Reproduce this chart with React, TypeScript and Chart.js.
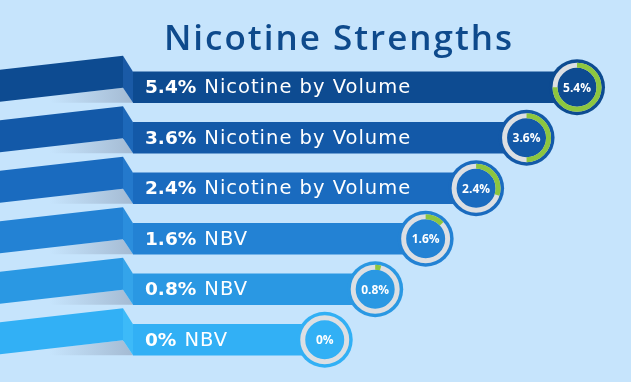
import React, { useEffect, useRef } from "react";
import { Chart, registerables } from "chart.js";

Chart.register(...registerables);

const chartTitle = "Nicotine Strengths";
const categories = ["5.4%", "3.6%", "2.4%", "1.6%", "0.8%", "0%"];
const labelSuffixes = [
  "Nicotine by Volume",
  "Nicotine by Volume",
  "Nicotine by Volume",
  "NBV",
  "NBV",
  "NBV",
];
// ordinal step (bar reach) of each strength
const strengthRank = [6, 5, 4, 3, 2, 1];
// share of the ring that is green
const ringShare = [0.75, 0.5, 0.3, 0.13, 0.04, 0];
const barColors = ["#0d4b91", "#1359a8", "#1a6bbf", "#2382d4", "#2a98e3", "#32b0f5"];
const foldColors = ["#1a5aa6", "#1d68b9", "#2479cc", "#2b8edd", "#34a4ea", "#3dbaf8"];

const BG = "#c6e4fc";
const FONT = "'Open Sans', Lato, sans-serif";
const LABEL_FONT = "'DejaVu Sans', 'Open Sans', sans-serif";

const infographicPlugin = {
  id: "infographic",
  beforeDraw(chart: any) {
    const { ctx, width, height } = chart;
    ctx.save();
    ctx.fillStyle = BG;
    ctx.fillRect(0, 0, width, height);
    ctx.fillStyle = "#0e4a8c";
    ctx.font = `600 35px ${FONT}`;
    (ctx as any).letterSpacing = "2px";
    ctx.textAlign = "center";
    ctx.textBaseline = "alphabetic";
    ctx.fillText(chartTitle, 339, 50);
    ctx.restore();
  },
  beforeDatasetsDraw(chart: any) {
    const { ctx } = chart;
    const meta = chart.getDatasetMeta(0);
    meta.data.forEach((el: any, i: number) => {
      const { y, base, height } = el.getProps(["y", "base", "height"], true);
      const y0 = y - height / 2;
      const y1 = y + height / 2;
      const fx = base - 10;
      ctx.save();
      // shadow under the ribbon
      const g = ctx.createLinearGradient(50, 0, base, 0);
      g.addColorStop(0, "rgba(130,145,170,0)");
      g.addColorStop(1, "rgba(130,145,170,0.5)");
      ctx.fillStyle = g;
      ctx.beginPath();
      ctx.moveTo(50, y1 - 1 - (50 / fx) * 14);
      ctx.lineTo(fx, y1 - 15);
      ctx.lineTo(base, y1);
      ctx.lineTo(50, y1);
      ctx.closePath();
      ctx.fill();
      // slanted strip
      ctx.fillStyle = barColors[i];
      ctx.beginPath();
      ctx.moveTo(0, y0 - 2);
      ctx.lineTo(fx, y0 - 16);
      ctx.lineTo(fx, y1 - 15);
      ctx.lineTo(0, y1 - 1);
      ctx.closePath();
      ctx.fill();
      // fold face
      ctx.fillStyle = foldColors[i];
      ctx.beginPath();
      ctx.moveTo(fx, y0 - 16);
      ctx.lineTo(base, y0);
      ctx.lineTo(base, y1);
      ctx.lineTo(fx, y1 - 15);
      ctx.closePath();
      ctx.fill();
      ctx.restore();
    });
  },
  afterDatasetsDraw(chart: any) {
    const { ctx } = chart;
    const meta = chart.getDatasetMeta(0);
    meta.data.forEach((el: any, i: number) => {
      const { x, y, base } = el.getProps(["x", "y", "base"], true);
      ctx.save();
      // label
      ctx.fillStyle = "#ffffff";
      ctx.textBaseline = "middle";
      ctx.textAlign = "left";
      ctx.font = `bold 18.5px ${LABEL_FONT}`;
      const strong = categories[i];
      ctx.fillText(strong, base + 12, y + 1);
      const w = ctx.measureText(strong).width;
      ctx.font = `19.5px ${LABEL_FONT}`;
      (ctx as any).letterSpacing = "1px";
      ctx.fillText(labelSuffixes[i], base + 12 + w + 8, y + 1);
      (ctx as any).letterSpacing = "0px";
      // badge
      ctx.fillStyle = barColors[i];
      ctx.beginPath();
      ctx.arc(x, y, 28, 0, Math.PI * 2);
      ctx.fill();
      ctx.lineWidth = 5;
      ctx.strokeStyle = "#dcdfe3";
      ctx.beginPath();
      ctx.arc(x, y, 22, 0, Math.PI * 2);
      ctx.stroke();
      if (ringShare[i] > 0) {
        ctx.strokeStyle = "#8dc63f";
        ctx.beginPath();
        ctx.arc(x, y, 22, -Math.PI / 2, -Math.PI / 2 + ringShare[i] * Math.PI * 2);
        ctx.stroke();
      }
      ctx.fillStyle = "#ffffff";
      ctx.textAlign = "center";
      ctx.font = `bold 12px ${FONT}`;
      ctx.fillText(categories[i], x, y + 1);
      ctx.restore();
    });
  },
};

export default function App() {
  const canvasRef = useRef<HTMLCanvasElement | null>(null);
  useEffect(() => {
    if (!canvasRef.current) return;
    const chart = new Chart(canvasRef.current, {
      type: "bar",
      data: {
        labels: categories,
        datasets: [
          {
            data: strengthRank,
            base: -2.8,
            backgroundColor: barColors,
            barThickness: 31,
            borderWidth: 0,
          } as any,
        ],
      },
      options: {
        indexAxis: "y",
        animation: false,
        responsive: true,
        maintainAspectRatio: false,
        layout: { padding: { left: 133, right: 0, top: 62, bottom: 17 } },
        plugins: {
          legend: { display: false },
          tooltip: { enabled: false },
          title: { display: false },
        },
        scales: {
          x: { type: "linear", min: -2.8, max: 7.07, display: false },
          y: { type: "category", display: false, offset: true },
        },
      },
      plugins: [infographicPlugin],
    });
    return () => chart.destroy();
  }, []);
  return (
    <div style={{ position: "fixed", left: 0, top: 0, width: 631, height: 382, background: BG }}>
      <canvas ref={canvasRef} />
    </div>
  );
}
